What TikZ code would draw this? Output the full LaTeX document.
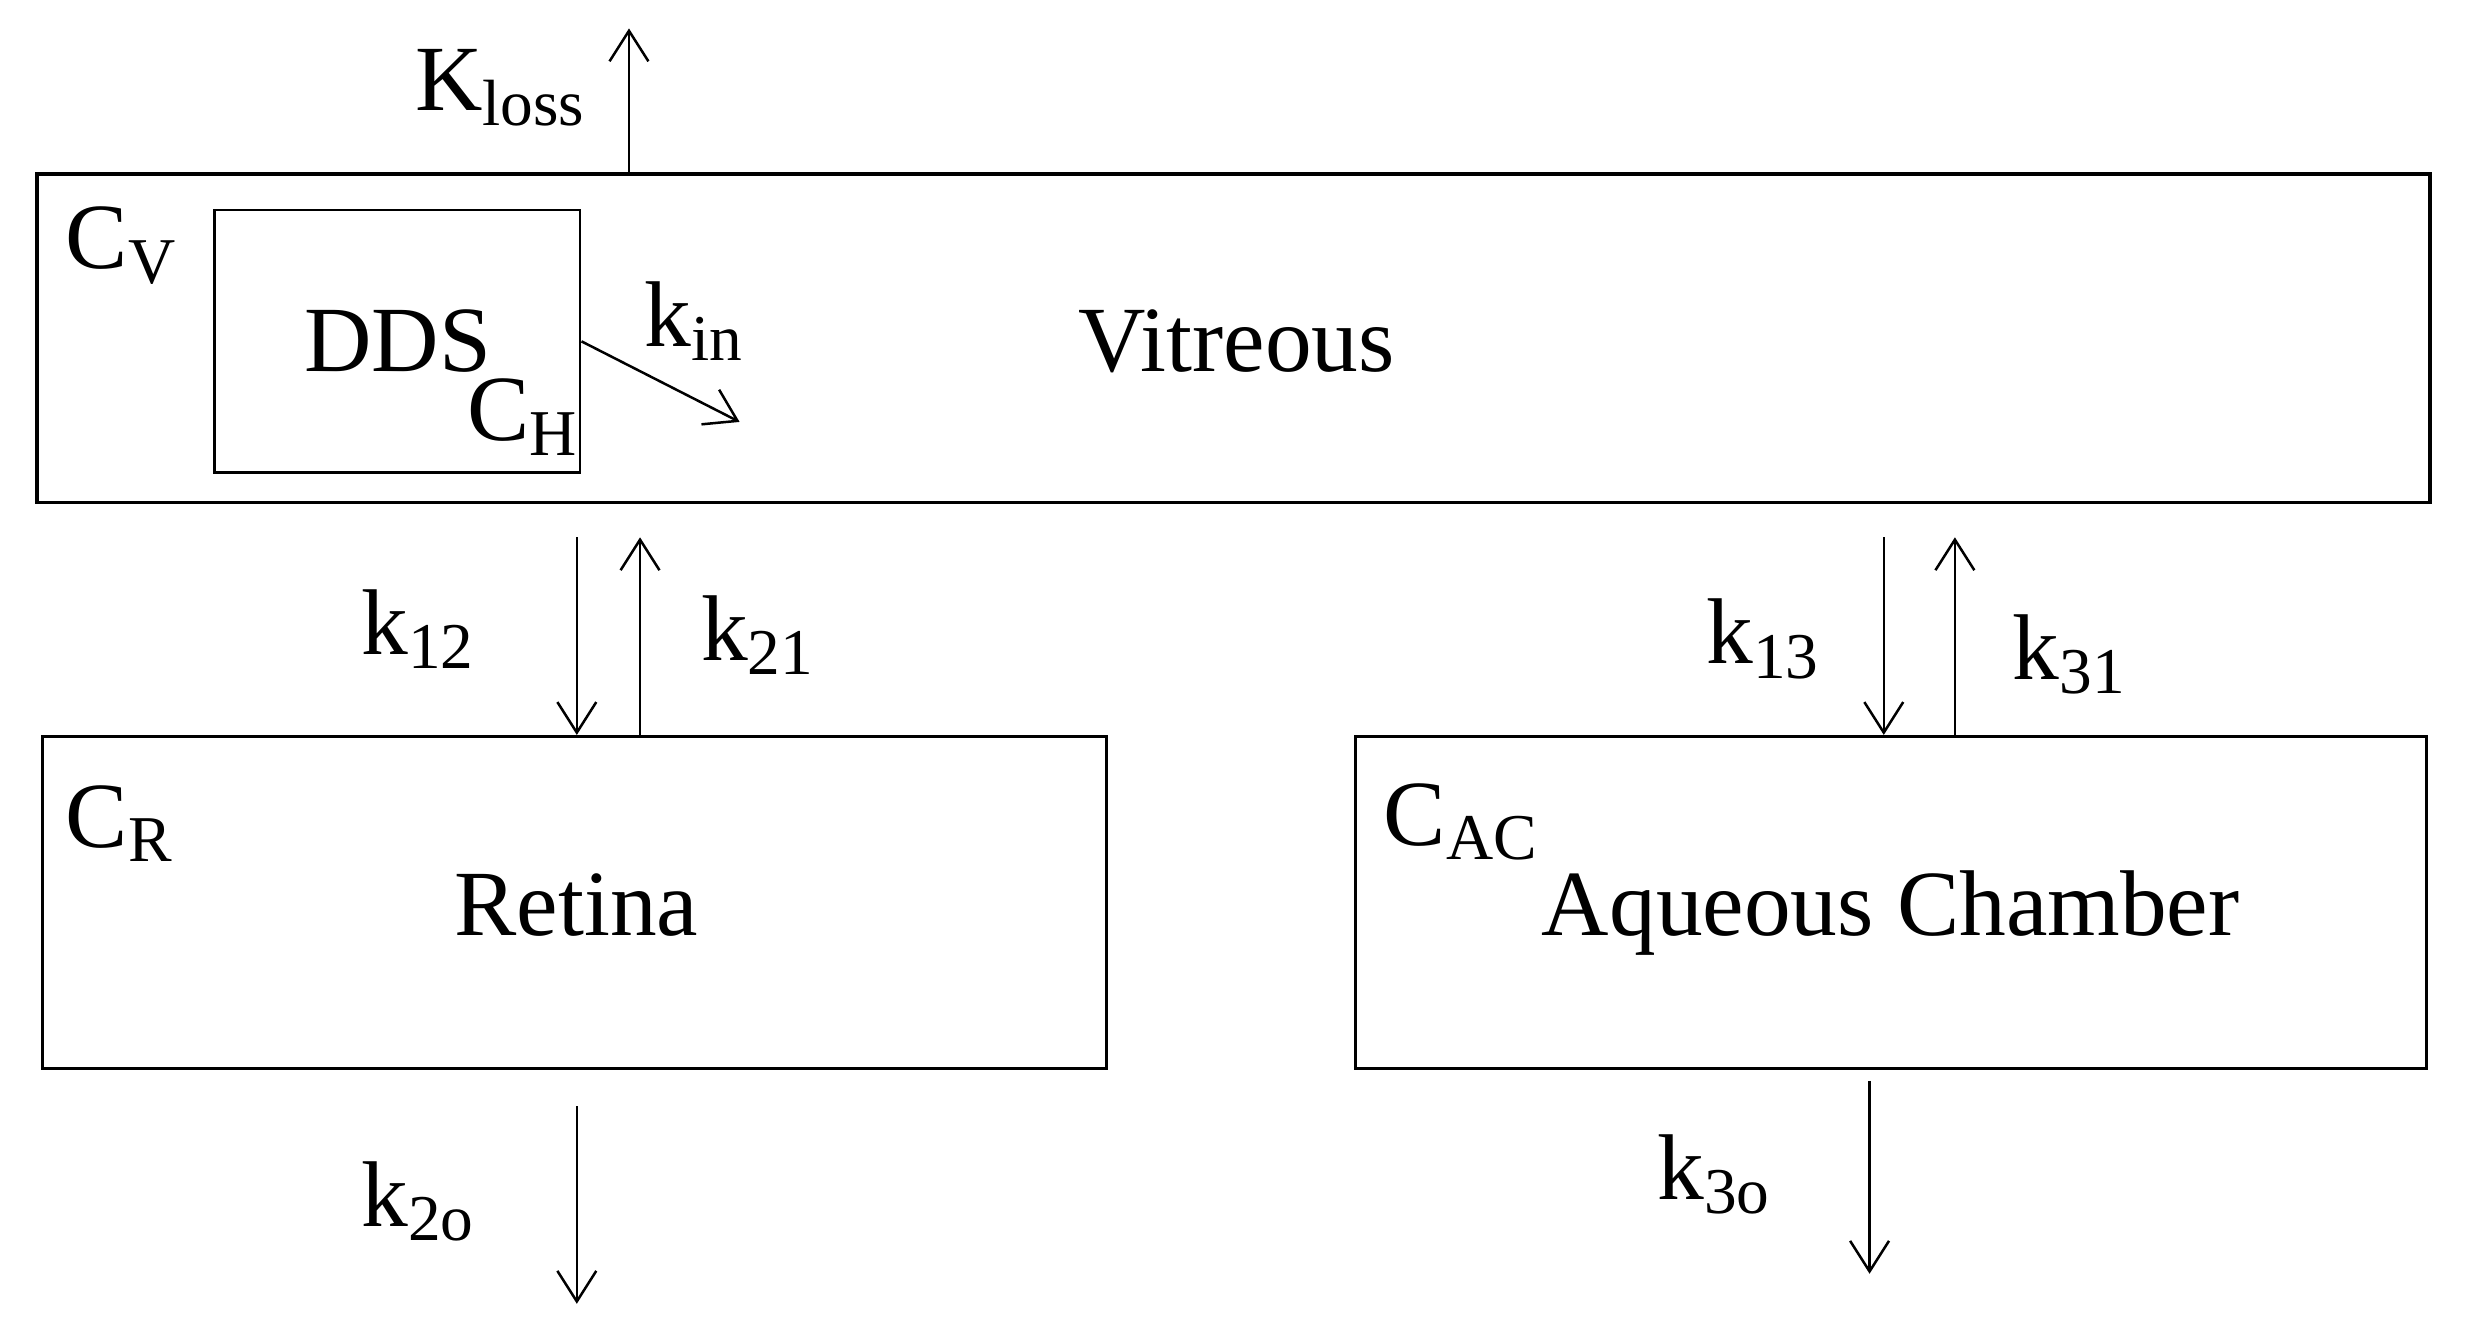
\documentclass[tikz,border=0pt]{standalone}
\usepackage{fontspec}
\setmainfont{Liberation Serif}
\usetikzlibrary{positioning, arrows.meta, calc}
\tikzset{
  compartment/.style={rectangle, draw=black, line width=0.5pt, inner sep=0pt},
  rate/.style={inner sep=0pt, anchor=base west, font=\fontsize{16.8}{20}\selectfont},
  flow/.style={line width=0.45pt, -{Straight Barb[length=5.5pt, width=7pt]}}
}
\begin{document}
\begin{tikzpicture}[x=0.01cm, y=-0.01cm]
  \useasboundingbox (0,0) rectangle (1568,840);
  % Compartimentos
  \node (vitreous) [compartment, line width=0.65pt, minimum width=15.13cm, minimum height=2.08cm] at (780.5,214) {};
  \node (dds) [compartment, minimum width=2.31cm, minimum height=1.66cm] at (251.5,216) {};
  \node (retina) [compartment, minimum width=6.73cm, minimum height=2.10cm] at (363.5,571) {};
  \node (aqueous) [compartment, minimum width=6.77cm, minimum height=2.10cm] at (1196.5,571) {};

  % Nombres y concentraciones
  \node (vitname) [rate] at (682,235) {Vitreous};
  \node (retname) [rate] at (287,592) {Retina};
  \node (aqname) [rate] at (975,592) {Aqueous Chamber};
  \node (ddsname) [rate] at (192,235) {DDS};
  \node (cv) [rate] at (41,170) {C\textsubscript{V}};
  \node (ch) [rate] at (295,279) {C\textsubscript{H}};
  \node (cr) [rate] at (41,536) {C\textsubscript{R}};
  \node (cac) [rate] at (875,535) {C\textsubscript{AC}};

  % Constantes de velocidad
  \node (kloss) [rate] at (262,70) {K\textsubscript{loss}};
  \node (kin) [rate] at (407,219) {k\textsubscript{in}};
  \node (k12) [rate] at (228,414) {k\textsubscript{12}};
  \node (k21) [rate] at (443,418) {k\textsubscript{21}};
  \node (k13) [rate] at (1079,420) {k\textsubscript{13}};
  \node (k31) [rate] at (1273,430) {k\textsubscript{31}};
  \node (k2o) [rate] at (228,776) {k\textsubscript{2o}};
  \node (k3o) [rate] at (1048,759) {k\textsubscript{3o}};

  % Extremos libres de las flechas
  \coordinate (lossend) at (398,18);
  \coordinate (inend) at (468,267);
  \coordinate (top12) at (365,340);
  \coordinate (top21) at (405,340);
  \coordinate (top13) at (1192,340);
  \coordinate (top31) at (1237,340);
  \coordinate (out2a) at (365,700);
  \coordinate (out2b) at (365,825);
  \coordinate (out3a) at (1183,684);
  \coordinate (out3b) at (1183,806);

  % Flechas
  \draw [flow] (vitreous.north -| lossend) -- (lossend);
  \draw [flow] (dds.east) -- (inend);
  \draw [flow] (top12) -- (retina.north -| top12);
  \draw [flow] (retina.north -| top21) -- (top21);
  \draw [flow] (top13) -- (aqueous.north -| top13);
  \draw [flow] (aqueous.north -| top31) -- (top31);
  \draw [flow] (out2a) -- (out2b);
  \draw [flow] (out3a) -- (out3b);
\end{tikzpicture}
\end{document}
